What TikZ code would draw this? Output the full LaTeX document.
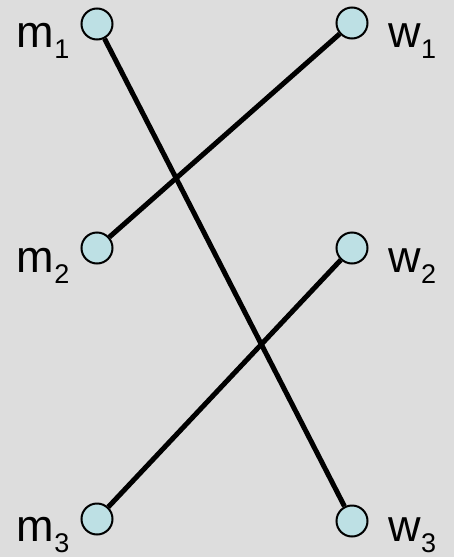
\documentclass[tikz,border=0pt]{standalone}
\usepackage{fontspec}
\setmainfont{Liberation Sans}
\usetikzlibrary{positioning}
\definecolor{canvas}{HTML}{DDDDDD}
\definecolor{paleteal}{HTML}{BDE0E4}
\newcommand{\idx}[1]{\raisebox{-11pt}{\fontsize{27}{27}\selectfont #1}}
\tikzset{
  person/.style={
    circle,
    draw=black,
    line width=2pt,
    fill=paleteal,
    minimum size=31pt,
    inner sep=0pt
  },
  tag/.style={font=\fontsize{45}{45}\selectfont, inner sep=0pt},
  match/.style={line width=5pt, draw=black}
}

\begin{document}
\begin{tikzpicture}[x=1pt, y=-1pt]
  \fill[canvas] (0,0) rectangle (454,557);

  \node[person] (m1) at (97,24) {};
  \node[person] (m2) at (97,248) {};
  \node[person] (m3) at (97,519) {};
  \node[person] (w1) at (352,23) {};
  \node[person] (w2) at (352,248) {};
  \node[person] (w3) at (352,521) {};

  \draw[match] (m1) -- (w3);
  \draw[match] (w1) -- (m2);
  \draw[match] (w2) -- (m3);

  \node[tag, anchor=base east] at ([xshift=-11pt, yshift=-23pt]m1.west) {m\idx{1}};
  \node[tag, anchor=base east] at ([xshift=-11pt, yshift=-24pt]m2.west) {m\idx{2}};
  \node[tag, anchor=base east] at ([xshift=-11pt, yshift=-22pt]m3.west) {m\idx{3}};
  \node[tag, anchor=base west] at ([xshift=20pt, yshift=-24pt]w1.east) {w\idx{1}};
  \node[tag, anchor=base west] at ([xshift=20pt, yshift=-24pt]w2.east) {w\idx{2}};
  \node[tag, anchor=base west] at ([xshift=20pt, yshift=-20pt]w3.east) {w\idx{3}};
\end{tikzpicture}
\end{document}
